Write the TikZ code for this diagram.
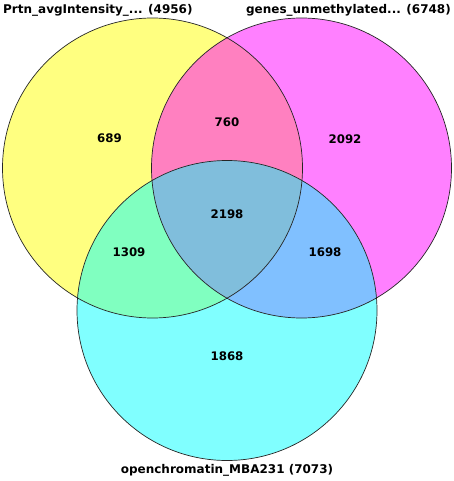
\documentclass[tikz,border=0pt]{standalone}
\usepackage{fontspec}
\setmainfont{DejaVu Sans}
\begin{document}
\begin{tikzpicture}[x=1pt,y=-1pt,
  lbl/.style={font=\fontsize{12}{14}\selectfont\bfseries, inner sep=0pt},
  num/.style={font=\fontsize{11.8}{13}\selectfont\bfseries, inner sep=0pt},
  outline/.style={draw=black!85, line width=0.7pt}]
\useasboundingbox (0,0) rectangle (454,481);
\definecolor{cY}{RGB}{255,255,128}
\definecolor{cM}{RGB}{255,128,255}
\definecolor{cC}{RGB}{128,255,255}
\definecolor{cYM}{RGB}{255,128,192}
\definecolor{cYC}{RGB}{128,255,192}
\definecolor{cMC}{RGB}{128,192,255}
\definecolor{cYMC}{RGB}{128,190,220}
\coordinate (Y) at (152.5,168);
\coordinate (M) at (301.5,168);
\coordinate (C) at (227,310.5);
\def\R{150pt}
% base fills
\fill[cY] (Y) circle[radius=\R];
\fill[cM] (M) circle[radius=\R];
\fill[cC] (C) circle[radius=\R];
% pairwise overlaps
\begin{scope}\clip (Y) circle[radius=\R]; \fill[cYM] (M) circle[radius=\R];\end{scope}
\begin{scope}\clip (Y) circle[radius=\R]; \fill[cYC] (C) circle[radius=\R];\end{scope}
\begin{scope}\clip (M) circle[radius=\R]; \fill[cMC] (C) circle[radius=\R];\end{scope}
\begin{scope}\clip (Y) circle[radius=\R]; \clip (M) circle[radius=\R]; \fill[cYMC] (C) circle[radius=\R];\end{scope}
% outlines
\path[outline] (Y) circle[radius=\R];
\path[outline] (M) circle[radius=\R];
\path[outline] (C) circle[radius=\R];
% numbers
\node[num] (n689) at (109.5,138.5) {689};
\node[num] (n760) at (227,122) {760};
\node[num] (n2092) at (345,139) {2092};
\node[num] (n2198) at (227,214) {2198};
\node[num] (n1309) at (129,252) {1309};
\node[num] (n1698) at (325,252) {1698};
\node[num] (n1868) at (227,356) {1868};
% labels
\node[lbl, anchor=west] (labA) at (3,10) {Prtn\_avgIntensity\_... (4956)};
\node[lbl, anchor=east] (labB) at (451,10) {genes\_unmethylated... (6748)};
\node[lbl] (labC) at (227,470) {openchromatin\_MBA231 (7073)};
\end{tikzpicture}
\end{document}
